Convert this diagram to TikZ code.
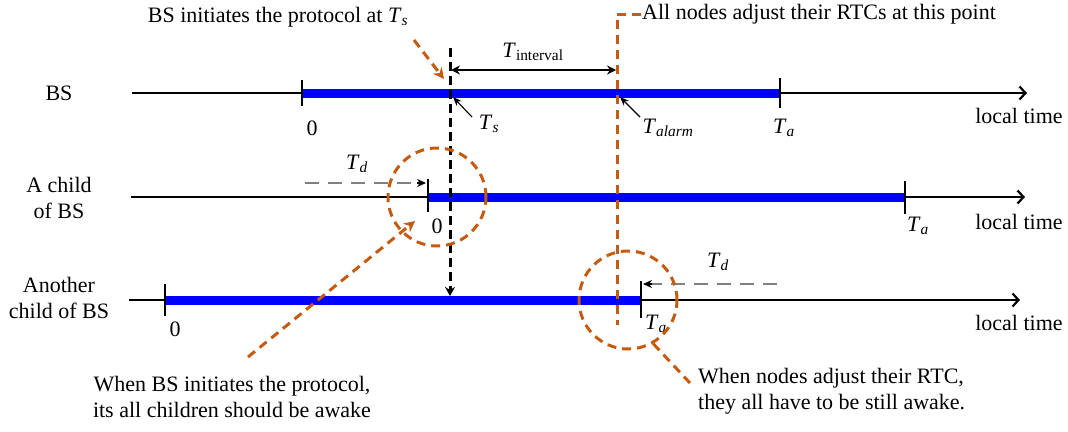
\documentclass[tikz,border=0pt]{standalone}
\usepackage{fontspec}
\setmainfont{Liberation Serif}
\definecolor{rtcorange}{RGB}{197,90,17}
\definecolor{rtcblue}{RGB}{0,0,255}
\usetikzlibrary{arrows.meta,positioning,calc}
\newcommand{\Tsub}[1]{\textit{T}\textsubscript{\textit{#1}}}

\begin{document}
\begin{tikzpicture}[
  x=1pt, y=-1pt,
  every node/.style={font=\fontsize{22}{26}\selectfont, inner sep=1pt},
  timeline/.style={line width=2.4pt,-{Straight Barb[length=6pt,width=13pt,line width=2.2pt]}},
  awake/.style={draw=rtcblue,line width=9pt},
  tickmark/.style={line width=1.8pt},
  pointer/.style={line width=1.1pt,-{Stealth[length=9pt,width=7pt]}},
  orangedash/.style={draw=rtcorange,line width=3pt,dash pattern=on 9pt off 6pt},
  delay/.style={draw=gray,line width=1.6pt,dash pattern=on 14pt off 9pt},
  note/.style={align=center},
]
  \useasboundingbox (0,0) rectangle (1068,431);

  % Row labels
  \node (bs) at (59,93) {BS};
  \node[align=center] (child) at (59,198) {A child\\of BS};
  \node[align=center] (other) at (59,298) {Another\\child of BS};

  % BS timeline
  \coordinate (bsS) at (132,93);
  \coordinate (bsE) at (1027,93);
  \draw[timeline] (bsS) -- (bsE);
  \draw[awake] (302,93) -- (780,93);
  \draw[tickmark] (302,80) -- (302,106);
  \draw[tickmark] (780,78) -- (780,108);
  \node (bs0) at (312,128) {0};
  \node (bsTa) at (784,128) {\Tsub{a}};
  \node (bsLt) at (1019,116) {local time};

  % child timeline
  \coordinate (chS) at (131,197);
  \coordinate (chE) at (1025,197);
  \draw[timeline] (chS) -- (chE);
  \draw[awake] (428,197) -- (905,197);
  \draw[tickmark] (428,179) -- (428,212);
  \draw[tickmark] (905,181) -- (905,214);
  \node (ch0) at (437,226) {0};
  \node (chTa) at (918,226) {\Tsub{a}};
  \node (chLt) at (1019,222) {local time};

  % another child timeline
  \coordinate (anS) at (129,300);
  \coordinate (anE) at (1020,300);
  \draw[timeline] (anS) -- (anE);
  \draw[awake] (165,300) -- (641,300);
  \draw[tickmark] (165,284) -- (165,316);
  \draw[tickmark] (641,281) -- (641,318);
  \node (an0) at (175,329) {0};
  \node (anTa) at (656,324) {\Tsub{a}};
  \node (anLt) at (1019,323) {local time};

  % delays
  \node (tdA) at (357,164) {\Tsub{d}};
  \coordinate (tdAs) at (305,183);
  \coordinate (tdAe) at (426,183);
  \draw[delay] (tdAs) -- ($(tdAe)+(-8,0)$);
  \draw[-{Stealth[length=9pt,width=8pt]},line width=1.4pt] ($(tdAe)+(-9,0)$) -- (tdAe);
  \node (tdB) at (718,262) {\Tsub{d}};
  \coordinate (tdBs) at (777,284);
  \coordinate (tdBe) at (643,284);
  \draw[delay] (tdBs) -- ($(tdBe)+(8,0)$);
  \draw[-{Stealth[length=9pt,width=8pt]},line width=1.4pt] ($(tdBe)+(9,0)$) -- (tdBe);

  % BS initiates the protocol
  \node (init) at (278,17) {BS initiates the protocol at \Tsub{s}};
  \coordinate (initA) at (414,40);
  \coordinate (initB) at (444,79);
  \draw[orangedash,-{Stealth[length=11pt,width=11pt]}] (initA) -- (initB);
  \coordinate (tsTop) at (450,48);
  \coordinate (tsBot) at (450,296);
  \draw[line width=3pt,dash pattern=on 9pt off 5pt,-{Stealth[length=9pt,width=10pt]}] (tsTop) -- (tsBot);
  \node (ts) at (489,124) {\Tsub{s}};
  \draw[pointer] (472,117) -- (453,97);

  % interval
  \node (tint) at (533,52) {\textit{T}\textsubscript{interval}};
  \coordinate (intL) at (451,70);
  \coordinate (intR) at (616,70);
  \draw[line width=2pt,{Stealth[length=9pt,width=9pt]}-{Stealth[length=9pt,width=9pt]}] (intL) -- (intR);

  % all nodes adjust
  \node[anchor=west] (adj) at (641,14) {All nodes adjust their RTCs at this point};
  \coordinate (adjBot) at (617,325);
  \draw[orangedash] (adj.west) -| (adjBot);
  \node (talarm) at (668,128) {\textit{T}\textsubscript{\textit{alarm}}};
  \draw[pointer] (640,117) -- (620,97);

  % circles
  \node[circle,orangedash,minimum size=98pt] (c1) at (437,197) {};
  \node[circle,orangedash,minimum size=98pt] (c2) at (628,300) {};

  % notes
  \node[note] (noteL) at (232,397) {When BS initiates the protocol,\\its all children should be awake};
  \node[anchor=west,align=left] (noteR) at (697,391) {When nodes adjust their RTC,\\they all have to be still awake.};
  \coordinate (noteLa) at (248,357);
  \coordinate (noteLb) at (415,221);
  \draw[orangedash,-{Stealth[length=11pt,width=11pt]}] (noteLa) -- (noteLb);
  \coordinate (noteRa) at (690,383);
  \draw[orangedash] (c2.-60) -- (noteRa);
\end{tikzpicture}
\end{document}
